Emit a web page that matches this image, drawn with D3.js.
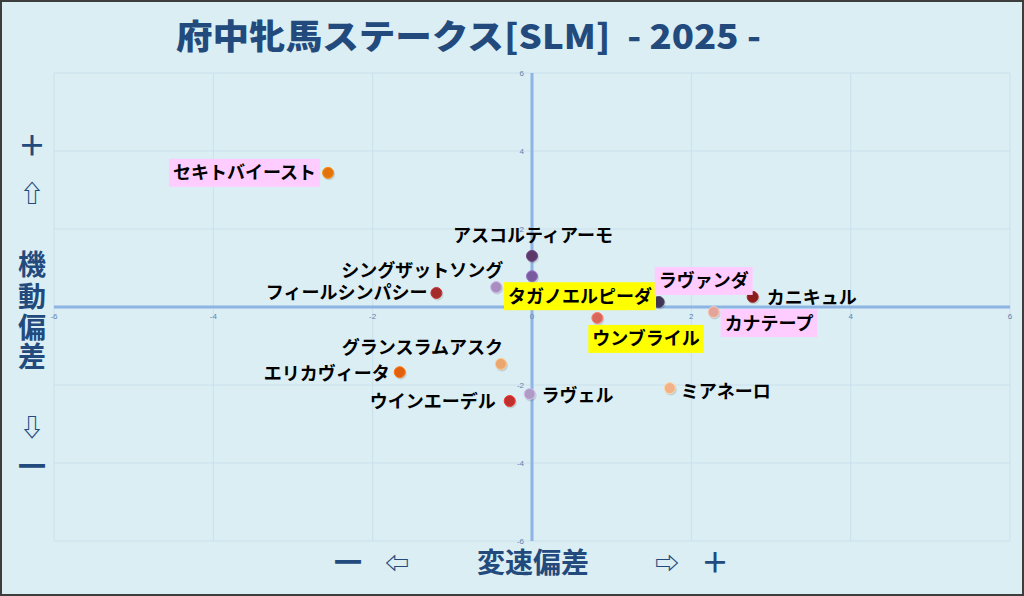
<!DOCTYPE html>
<meta charset="utf-8">
<script src="https://d3js.org/d3.v7.min.js"></script>
<style>
  body { margin: 0; background: #dbeef4; }
  svg { display: block; }
</style>
<div id="chart"></div>
<script>

// horse names, x = 変速偏差, y = 機動偏差
const horses = ["セキトバイースト", "アスコルティアーモ", "タガノエルピーダ", "シングザットソング",
    "フィールシンパシー", "ラヴァンダ", "カニキュル", "カナテープ", "ウンブライル",
    "グランスラムアスク", "エリカヴィータ", "ウインエーデル", "ラヴェル", "ミアネーロ"];
const speedDev    = [-2.56, 0.00, 0.00, -0.45, -1.20, 1.59, 2.77, 2.28, 0.82, -0.39, -1.66, -0.28, -0.03, 1.73];
const mobilityDev = [ 3.44, 1.31, 0.79,  0.51,  0.36, 0.13, 0.26, -0.13, -0.28, -1.46, -1.67, -2.41, -2.23, -2.08];
// label highlight group (pink / yellow / none)
const highlight = ["pink", "", "yellow", "", "", "pink", "", "pink", "yellow", "", "", "", "", ""];
const ticks = [-6, -4, -2, 0, 2, 4, 6];

const title = "府中牝馬ステークス[SLM]  - 2025 -";

// marker colours per horse
const dotColors = ["#e3730c", "#5b3a6b", "#7b5b9f", "#a88dbf", "#a52a2a", "#3f3454", "#8a1c1c",
    "#e3a49a", "#d9685c", "#eba56f", "#e0600e", "#c0302c", "#ae9cc4", "#f2b186"];

// label placement relative to the marker (anchor, dx, dy in px)
const labelPlace = [
    ["end", -12, 0], ["middle", 1, -20], ["start", -24, 20], ["end", 7, -17],
    ["end", -9, 0], ["start", 0, -21], ["start", 14, 1], ["start", 11, 11], ["start", -5, 21],
    ["end", 2, -16], ["end", -10, 1], ["end", -14, 1], ["start", 12, 2], ["start", 11, 3]
];
const bgColor = {pink: "#ffccff", yellow: "#ffff00"};

const width = 1024, height = 596;
const navy = "#234a7d";

const svg = d3.select("#chart").append("svg")
    .attr("width", width)
    .attr("height", height);

svg.append("rect")
    .attr("width", width).attr("height", height)
    .attr("fill", "#dbeef4");

const x = d3.scaleLinear().domain([-6, 6]).range([54, 1010]);
const y = d3.scaleLinear().domain([-6, 6]).range([541, 73]);

// grid
svg.append("g").selectAll("line.v")
    .data(ticks).join("line")
    .attr("x1", d => x(d)).attr("x2", d => x(d))
    .attr("y1", y(6)).attr("y2", y(-6))
    .attr("stroke", "#c9e0ec").attr("stroke-width", 1);
svg.append("g").selectAll("line.h")
    .data(ticks).join("line")
    .attr("x1", x(-6)).attr("x2", x(6))
    .attr("y1", d => y(d)).attr("y2", d => y(d))
    .attr("stroke", "#c9e0ec").attr("stroke-width", 1);

// zero axes
svg.append("line")
    .attr("x1", x(-6)).attr("x2", x(6)).attr("y1", y(0)).attr("y2", y(0))
    .attr("stroke", "#8db4e2").attr("stroke-width", 3);
svg.append("line")
    .attr("x1", x(0)).attr("x2", x(0)).attr("y1", y(6)).attr("y2", y(-6))
    .attr("stroke", "#8db4e2").attr("stroke-width", 3);

// tick labels
const tickFont = "'Liberation Sans', Arial, sans-serif";
svg.append("g").selectAll("text")
    .data(ticks).join("text")
    .attr("x", d => x(d)).attr("y", y(0) + 12)
    .attr("text-anchor", "middle")
    .attr("font-family", tickFont).attr("font-size", 8)
    .attr("fill", "#5f82b0")
    .text(d => d);
svg.append("g").selectAll("text")
    .data(ticks).join("text")
    .attr("x", x(0) - 8).attr("y", d => y(d) + 3)
    .attr("text-anchor", "end")
    .attr("font-family", tickFont).attr("font-size", 8)
    .attr("fill", "#5f82b0")
    .text(d => d);

// title
svg.append("text")
    .attr("x", 176).attr("y", 49)
    .attr("font-family", "'Noto Sans CJK JP', sans-serif")
    .attr("font-weight", 900)
    .attr("font-size", 34)
    .attr("fill", navy)
    .attr("textLength", 585)
    .attr("lengthAdjust", "spacingAndGlyphs")
    .style("white-space", "pre")
    .text(title);

// axis captions
const capFont = "'Noto Sans CJK JP', sans-serif";
const yCaption = [["＋", 146], ["⇧", 193], ["機", 265], ["動", 297], ["偏", 328], ["差", 357], ["⇩", 427], ["一", 467]];
svg.append("g").selectAll("text")
    .data(yCaption).join("text")
    .attr("x", 32).attr("y", d => d[1])
    .attr("dy", "0.36em")
    .attr("text-anchor", "middle")
    .attr("font-family", capFont).attr("font-weight", 700)
    .attr("font-size", d => /[⇧⇩]/.test(d[0]) ? 24 : 28)
    .attr("fill", navy)
    .text(d => d[0]);

const xCaption = [["一", 348], ["⇦", 397], ["変速偏差", 533], ["⇨", 667], ["＋", 715]];
svg.append("g").selectAll("text")
    .data(xCaption).join("text")
    .attr("x", d => d[1]).attr("y", 563)
    .attr("dy", "0.36em")
    .attr("text-anchor", "middle")
    .attr("font-family", capFont).attr("font-weight", 700)
    .attr("font-size", d => /[⇦⇨]/.test(d[0]) ? 24 : 28)
    .attr("fill", navy)
    .text(d => d[0]);

// points
const pts = horses.map((h, i) => ({
    name: h, sx: speedDev[i], my: mobilityDev[i],
    color: dotColors[i], hl: highlight[i], place: labelPlace[i]
}));

svg.append("g").selectAll("circle.shadow")
    .data(pts).join("circle")
    .attr("cx", d => x(d.sx) + 1).attr("cy", d => y(d.my) + 1.5)
    .attr("r", 6)
    .attr("fill", "#000").attr("opacity", 0.12);

svg.append("g").selectAll("circle")
    .data(pts).join("circle")
    .attr("cx", d => x(d.sx)).attr("cy", d => y(d.my))
    .attr("r", 5.5)
    .attr("fill", d => d.color)
    .attr("stroke", d => d3.color(d.color).brighter(0.6))
    .attr("stroke-width", 1);

// labels with optional highlight box
const labels = svg.append("g").selectAll("g")
    .data(pts).join("g");

labels.each(function(d) {
    const g = d3.select(this);
    const t = g.append("text")
        .attr("x", x(d.sx) + d.place[1])
        .attr("y", y(d.my) + d.place[2])
        .attr("dy", "0.36em")
        .attr("text-anchor", d.place[0])
        .attr("font-family", "'Noto Sans CJK JP', sans-serif")
        .attr("font-weight", 700)
        .attr("font-size", 18)
        .attr("fill", "#000")
        .text(d.name);
    if (d.hl) {
        const b = t.node().getBBox();
        g.insert("rect", "text")
            .attr("x", b.x - 4).attr("width", b.width + 8)
            .attr("y", y(d.my) + d.place[2] - 14).attr("height", 28)
            .attr("fill", bgColor[d.hl]);
    }
});

// outer frame
svg.append("rect")
    .attr("x", 1).attr("y", 1)
    .attr("width", width - 2).attr("height", height - 2)
    .attr("fill", "none")
    .attr("stroke", "#3d3d3d").attr("stroke-width", 2);

</script>
